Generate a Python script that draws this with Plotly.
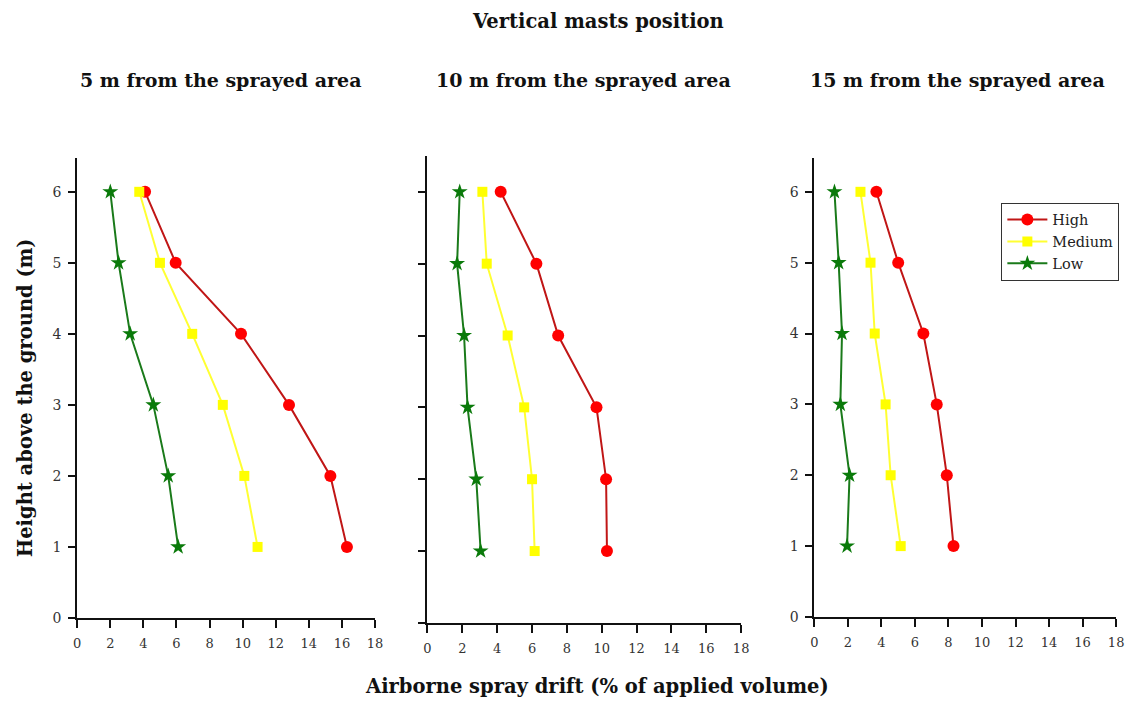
import plotly.graph_objects as go

heights = [1, 2, 3, 4, 5, 6]
series_names = ["High", "Medium", "Low"]

# Panel 1: 5 m from the sprayed area
p1_high = [16.3, 15.3, 12.8, 9.9, 5.95, 4.1]
p1_medium = [10.9, 10.1, 8.8, 6.95, 5.0, 3.75]
p1_low = [6.1, 5.5, 4.6, 3.2, 2.5, 2.0]

# Panel 2: 10 m from the sprayed area
p2_high = [10.3, 10.25, 9.7, 7.5, 6.25, 4.2]
p2_medium = [6.15, 6.0, 5.55, 4.6, 3.4, 3.15]
p2_low = [3.05, 2.8, 2.3, 2.1, 1.7, 1.85]

# Panel 3: 15 m from the sprayed area
p3_high = [8.3, 7.9, 7.3, 6.5, 5.0, 3.7]
p3_medium = [5.15, 4.55, 4.25, 3.6, 3.35, 2.75]
p3_low = [1.95, 2.1, 1.55, 1.65, 1.45, 1.2]

panel_titles = ["5 m from the sprayed area", "10 m from the sprayed area", "15 m from the sprayed area"]
x_ticks = [0, 2, 4, 6, 8, 10, 12, 14, 16, 18]
y_ticks = [0, 1, 2, 3, 4, 5, 6]

W, H = 1137, 710
FONT = "DejaVu Serif"

styles = {
    "High": dict(line=dict(color="#c01616", width=2), marker=dict(color="#ff0000", symbol="circle", size=12)),
    "Medium": dict(line=dict(color="#ffff33", width=2), marker=dict(color="#ffff00", symbol="square", size=10)),
    "Low": dict(line=dict(color="#1a7a1a", width=2), marker=dict(color="#0a7a0a", symbol="star", size=12)),
}

panels = [
    (p1_high, p1_medium, p1_low),
    (p2_high, p2_medium, p2_low),
    (p3_high, p3_medium, p3_low),
]

# pixel boxes: x0, x1, ytop, ybottom
boxes = [(74, 375, 160, 625), (428, 745, 158, 630), (819, 1124, 160, 624)]

fig = go.Figure()
layout = dict(
    width=W, height=H, margin=dict(l=0, r=0, t=0, b=0),
    paper_bgcolor="white", plot_bgcolor="white",
    font=dict(family=FONT, color="#222222"),
    showlegend=True,
    legend=dict(x=1008 / W, y=1 - 205 / H, xanchor="left", yanchor="top",
                bordercolor="#333333", borderwidth=1, bgcolor="white",
                font=dict(family=FONT, size=14.5, color="#222222"),
                tracegroupgap=0, itemwidth=40),
)

for i, (vals, box) in enumerate(zip(panels, boxes)):
    n = "" if i == 0 else str(i + 1)
    x0, x1, yt, yb = box
    for name, v in zip(series_names, vals):
        st = styles[name]
        fig.add_trace(go.Scatter(
            x=v, y=heights, mode="lines+markers", name=name,
            line=st["line"], marker=st["marker"],
            xaxis="x" + n, yaxis="y" + n,
            showlegend=(i == 2), cliponaxis=False,
        ))
    # y range so that 6 lands at measured pixel position (~194)
    y6 = 194
    ppu = (yb - y6) / 6.0
    ytop_val = (yb - yt) / ppu
    layout["xaxis" + n] = dict(
        domain=[x0 / W, x1 / W], anchor="y" + n, range=[0, 18],
        tickvals=x_ticks, ticks="outside", ticklen=8, tickwidth=1.5, tickcolor="#111111",
        showline=True, linecolor="#111111", linewidth=2, showgrid=False, zeroline=False,
        ticklabelstandoff=4,
        tickfont=dict(family=FONT, size=13, color="#333333"),
    )
    layout["yaxis" + n] = dict(
        domain=[1 - yb / H, 1 - yt / H], anchor="x" + n, range=[0, ytop_val],
        tickvals=y_ticks, ticks="outside", ticklen=7, tickwidth=1.5, tickcolor="#111111",
        showline=True, linecolor="#111111", linewidth=2, showgrid=False, zeroline=False,
        showticklabels=(i != 1), ticklabelstandoff=4,
        tickfont=dict(family=FONT, size=14, color="#333333"),
    )

fig.update_layout(**layout)

annotations = [
    dict(text="<b>Vertical masts position</b>", x=600 / W, y=1 - 22 / H, size=19.5),
    dict(text="<b>" + panel_titles[0] + "</b>", x=219 / W, y=1 - 81 / H, size=19),
    dict(text="<b>" + panel_titles[1] + "</b>", x=586 / W, y=1 - 81 / H, size=19),
    dict(text="<b>" + panel_titles[2] + "</b>", x=964 / W, y=1 - 81 / H, size=19),
    dict(text="<b>Airborne spray drift (% of applied volume)</b>", x=599 / W, y=1 - 694 / H, size=19.5),
]
for a in annotations:
    fig.add_annotation(text=a["text"], x=a["x"], y=a["y"], xref="paper", yref="paper",
                       showarrow=False, xanchor="center", yanchor="middle",
                       font=dict(family=FONT, size=a["size"], color="#111111"))
fig.add_annotation(text="<b>Height above the ground (m)</b>", x=22 / W, y=1 - 402 / H,
                   xref="paper", yref="paper", showarrow=False, textangle=-90,
                   xanchor="center", yanchor="middle",
                   font=dict(family=FONT, size=19.5, color="#111111"))

fig.write_html("out.html")
